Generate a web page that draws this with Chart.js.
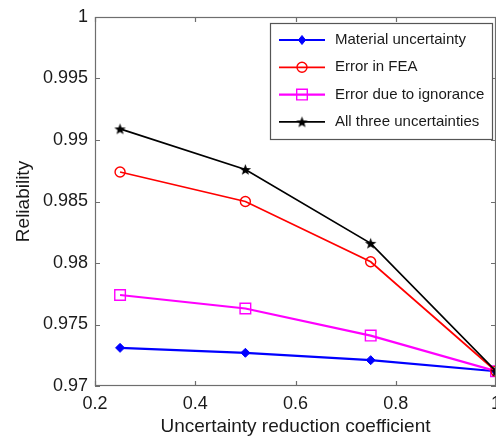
<!DOCTYPE html>
<html>
<head>
<meta charset="utf-8">
<script src="https://cdn.jsdelivr.net/npm/chart.js@4/dist/chart.umd.min.js"></script>
<style>
  html, body { margin: 0; padding: 0; background: #fff; }
  #wrap { width: 496px; height: 438px; }
</style>
</head>
<body>
<div id="wrap"><canvas id="myChart" width="496" height="438"></canvas></div>
<script>
// reduction coefficient on x, reliability on y
var coefficients = [0.25, 0.5, 0.75, 1];
var materialValues = [0.9731, 0.9727, 0.9721, 0.9712];
var feaValues = [0.9874, 0.9850, 0.9801, 0.9712];
var ignoranceValues = [0.9774, 0.9763, 0.9741, 0.9712];
var allThreeValues = [0.9909, 0.9876, 0.9816, 0.9712];

var seriesNames = ['Material uncertainty', 'Error in FEA', 'Error due to ignorance', 'All three uncertainties'];

var xTicks = [0.2, 0.4, 0.6, 0.8, 1];
var xTickLabels = ['0.2', '0.4', '0.6', '0.8', '1'];
var yTicks = [0.97, 0.975, 0.98, 0.985, 0.99, 0.995, 1];
var yTickLabels = ['0.97', '0.975', '0.98', '0.985', '0.99', '0.995', '1'];

var fontFamily = '"Liberation Sans", Arial, Helvetica, sans-serif';
var textColor = '#1a1a1a';
var axisColor = '#6e6e6e';

// filled five point star for the black line
function makeStar(size, color) {
  var c = document.createElement('canvas');
  c.width = size; c.height = size;
  var g = c.getContext('2d');
  var cx = size / 2, cy = size / 2 + 0.5;
  var outer = size / 2 - 0.5, inner = outer * 0.42;
  g.beginPath();
  for (var i = 0; i < 10; i++) {
    var r = i % 2 === 0 ? outer : inner;
    var a = -Math.PI / 2 + i * Math.PI / 5;
    var px = cx + r * Math.cos(a), py = cy + r * Math.sin(a);
    if (i === 0) g.moveTo(px, py); else g.lineTo(px, py);
  }
  g.closePath();
  g.fillStyle = color;
  g.fill();
  return c;
}
var starImg = makeStar(13, '#000');

function toPoints(values) {
  return values.map(function (v, i) { return { x: coefficients[i], y: v }; });
}

const data = {
  datasets: [
    {
      label: seriesNames[0],
      data: toPoints(materialValues),
      borderColor: '#0000ff',
      backgroundColor: '#0000ff',
      borderWidth: 2.2,
      pointStyle: 'rectRot',
      pointRadius: 4.5,
      pointBorderWidth: 1,
      order: 4
    },
    {
      label: seriesNames[1],
      data: toPoints(feaValues),
      borderColor: '#ff0000',
      backgroundColor: 'rgba(0,0,0,0)',
      borderWidth: 1.7,
      pointStyle: 'circle',
      pointRadius: 5,
      pointBorderWidth: 1.4,
      order: 2
    },
    {
      label: seriesNames[2],
      data: toPoints(ignoranceValues),
      borderColor: '#ff00ff',
      backgroundColor: 'rgba(0,0,0,0)',
      borderWidth: 2.2,
      pointStyle: 'rect',
      pointRadius: 7.5,
      pointBorderWidth: 1.4,
      order: 3
    },
    {
      label: seriesNames[3],
      data: toPoints(allThreeValues),
      borderColor: '#000000',
      backgroundColor: '#000000',
      borderWidth: 1.7,
      pointStyle: starImg,
      pointRadius: 6,
      order: 1
    }
  ]
};

// draw one marker the same way the line does
function drawMarker(ctx, ds, x, y) {
  ctx.save();
  ctx.strokeStyle = ds.borderColor;
  ctx.fillStyle = ds.backgroundColor;
  ctx.lineWidth = ds.pointBorderWidth || 1;
  var r = ds.pointRadius;
  if (ds.pointStyle instanceof HTMLCanvasElement) {
    ctx.drawImage(ds.pointStyle, x - ds.pointStyle.width / 2, y - ds.pointStyle.height / 2);
  } else if (ds.pointStyle === 'circle') {
    ctx.beginPath(); ctx.arc(x, y, r, 0, Math.PI * 2); ctx.fill(); ctx.stroke();
  } else if (ds.pointStyle === 'rect') {
    var s = Math.SQRT1_2 * r;
    ctx.beginPath(); ctx.rect(x - s, y - s, 2 * s, 2 * s); ctx.fill(); ctx.stroke();
  } else if (ds.pointStyle === 'rectRot') {
    ctx.beginPath();
    ctx.moveTo(x, y - r); ctx.lineTo(x + r * 0.8, y); ctx.lineTo(x, y + r); ctx.lineTo(x - r * 0.8, y);
    ctx.closePath(); ctx.fill(); ctx.stroke();
  }
  ctx.restore();
}

// box around the plot with inward tick marks on all four sides
const boxPlugin = {
  id: 'boxAxes',
  afterDatasetsDraw(chart) {
    const ctx = chart.ctx;
    const a = chart.chartArea;
    const xs = chart.scales.x, ys = chart.scales.y;
    const tl = 5;
    ctx.save();
    ctx.strokeStyle = axisColor;
    ctx.lineWidth = 1.2;
    ctx.strokeRect(a.left + 0.5, a.top + 0.5, a.right - a.left - 1, a.bottom - a.top - 1);
    ctx.beginPath();
    xs.ticks.forEach(function (t, i) {
      var px = Math.round(xs.getPixelForTick(i)) + 0.5;
      ctx.moveTo(px, a.bottom); ctx.lineTo(px, a.bottom - tl);
      ctx.moveTo(px, a.top); ctx.lineTo(px, a.top + tl);
    });
    ys.ticks.forEach(function (t, i) {
      var py = Math.round(ys.getPixelForTick(i)) + 0.5;
      ctx.moveTo(a.left, py); ctx.lineTo(a.left + tl, py);
      ctx.moveTo(a.right, py); ctx.lineTo(a.right - tl, py);
    });
    ctx.stroke();
    ctx.restore();
  },
  afterDraw(chart) {
    // legend box in the upper right of the plot
    const ctx = chart.ctx;
    const a = chart.chartArea;
    const bx = a.left + 175, by = a.top + 6, bw = 222, bh = 116;
    ctx.save();
    ctx.fillStyle = '#fff';
    ctx.fillRect(bx, by, bw, bh);
    ctx.strokeStyle = '#555';
    ctx.lineWidth = 1.2;
    ctx.strokeRect(bx + 0.5, by + 0.5, bw, bh);
    ctx.font = '15px ' + fontFamily;
    ctx.textBaseline = 'middle';
    chart.data.datasets.forEach(function (ds, i) {
      var ry = by + 17 + i * 27.3;
      ctx.strokeStyle = ds.borderColor;
      ctx.lineWidth = ds.borderWidth;
      ctx.beginPath();
      ctx.moveTo(bx + 9, ry); ctx.lineTo(bx + 55, ry);
      ctx.stroke();
      drawMarker(ctx, ds, bx + 32, ry);
      ctx.fillStyle = textColor;
      ctx.fillText(ds.label, bx + 65, ry);
    });
    ctx.restore();
  }
};

const ctx = document.getElementById('myChart');
var myChart = new Chart(ctx, {
  type: 'line',
  data: data,
  plugins: [boxPlugin],
  options: {
    responsive: false,
    animation: false,
    layout: { autoPadding: false, padding: { top: 17, right: 0, bottom: 0, left: 0 } },
    plugins: {
      legend: { display: false },
      tooltip: { enabled: false }
    },
    scales: {
      x: {
        type: 'linear',
        min: 0.2,
        max: 1,
        grid: { display: false, drawTicks: false },
        border: { display: false },
        afterBuildTicks: function (scale) {
          scale.ticks = xTicks.map(function (v) { return { value: v }; });
        },
        afterFit: function (scale) {
          scale.height = 52;
          scale.paddingLeft = 0;
          scale.paddingRight = 0;
        },
        ticks: {
          autoSkip: false,
          maxRotation: 0,
          padding: 7,
          color: textColor,
          font: { family: fontFamily, size: 18 },
          callback: function (v, i) { return xTickLabels[i]; }
        },
        title: {
          display: true,
          text: 'Uncertainty reduction coefficient',
          color: textColor,
          font: { family: fontFamily, size: 19 },
          padding: { top: 2, bottom: 0 }
        }
      },
      y: {
        min: 0.97,
        max: 1,
        grid: { display: false, drawTicks: false },
        border: { display: false },
        afterBuildTicks: function (scale) {
          scale.ticks = yTicks.map(function (v) { return { value: v }; });
        },
        afterFit: function (scale) {
          scale.width = 95;
          scale.paddingTop = 0;
          scale.paddingBottom = 0;
        },
        ticks: {
          autoSkip: false,
          padding: 7,
          color: textColor,
          font: { family: fontFamily, size: 18 },
          callback: function (v, i) { return yTickLabels[i]; }
        },
        title: {
          display: true,
          text: 'Reliability',
          color: textColor,
          font: { family: fontFamily, size: 19 },
          padding: { top: 12, bottom: 4 }
        }
      }
    }
  }
});
</script>
</body>
</html>
